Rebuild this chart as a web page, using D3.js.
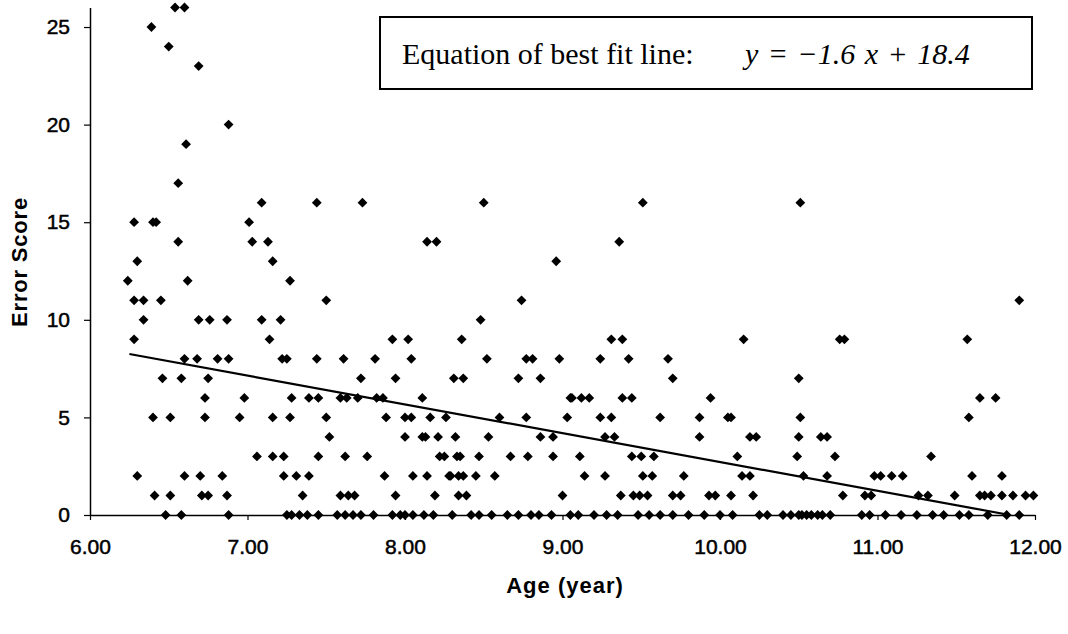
<!DOCTYPE html>
<html>
<head>
<meta charset="utf-8">
<script src="https://cdn.jsdelivr.net/npm/d3@7"></script>
<style>
  body { margin: 0; background: #fff; }
  svg { display: block; font-family: "Liberation Sans", Arial, sans-serif; }
</style>
</head>
<body>
<svg></svg>
<script>
// error score by age, one array per score level (ages in years)
var agesAt = {
  26: [6.54, 6.60],
  25: [6.39],
  24: [6.50],
  23: [6.69],
  20: [6.88],
  19: [6.61],
  17: [6.56],
  16: [7.09, 7.44, 7.73, 8.50, 9.51, 10.51],
  15: [6.28, 6.40, 6.42, 7.01],
  14: [6.56, 7.03, 7.13, 8.14, 8.20, 9.36],
  13: [6.30, 7.16, 8.96],
  12: [6.24, 6.62, 7.27],
  11: [6.28, 6.34, 6.45, 7.50, 8.74, 11.90],
  10: [6.34, 6.69, 6.76, 6.87, 7.09, 7.21, 8.48],
  9:  [6.28, 7.14, 7.92, 8.02, 8.36, 9.31, 9.38, 10.15, 10.76, 10.79, 11.57],
  8:  [6.60, 6.68, 6.81, 6.88, 7.22, 7.25, 7.44, 7.61, 7.81, 8.04, 8.52, 8.77, 8.81, 8.98, 9.24, 9.42, 9.67],
  7:  [6.46, 6.58, 6.75, 7.72, 7.94, 8.31, 8.37, 8.72, 8.86, 9.70, 10.50],
  6:  [6.73, 6.98, 7.28, 7.39, 7.45, 7.59, 7.63, 7.70, 7.82, 7.86, 8.11, 9.05, 9.06, 9.12, 9.17, 9.38, 9.44, 9.94, 11.65, 11.75],
  5:  [6.40, 6.51, 6.73, 6.95, 7.16, 7.27, 7.50, 7.88, 8.00, 8.04, 8.16, 8.26, 8.60, 8.77, 9.03, 9.24, 9.31, 9.62, 9.87, 10.05, 10.07, 10.51, 11.58],
  4:  [7.52, 8.00, 8.11, 8.13, 8.21, 8.32, 8.53, 8.86, 8.94, 9.27, 9.33, 9.87, 10.19, 10.23, 10.50, 10.64, 10.68],
  3:  [7.06, 7.16, 7.23, 7.45, 7.62, 7.76, 8.22, 8.25, 8.33, 8.35, 8.47, 8.67, 8.78, 8.94, 9.11, 9.44, 9.50, 9.58, 10.11, 10.49, 10.73, 11.34],
  2:  [6.30, 6.60, 6.70, 6.84, 7.23, 7.31, 7.39, 7.87, 8.05, 8.14, 8.28, 8.29, 8.34, 8.37, 8.45, 8.57, 9.14, 9.27, 9.51, 9.57, 9.77, 10.14, 10.19, 10.53, 10.68, 10.98, 11.02, 11.09, 11.16, 11.60, 11.79],
  1:  [6.41, 6.51, 6.71, 6.75, 6.87, 7.35, 7.59, 7.64, 7.68, 7.94, 8.19, 8.34, 8.39, 9.00, 9.37, 9.45, 9.49, 9.54, 9.70, 9.75, 9.93, 9.97, 10.07, 10.21, 10.78, 10.92, 10.96, 11.26, 11.32, 11.49, 11.65, 11.68, 11.72, 11.79, 11.86, 11.94, 11.99],
  0:  [6.48, 6.58, 6.88, 7.25, 7.28, 7.33, 7.38, 7.45, 7.57, 7.62, 7.67, 7.72, 7.80, 7.92, 7.97, 8.00, 8.05, 8.12, 8.18, 8.30, 8.42, 8.47, 8.55, 8.65, 8.72, 8.80, 8.85, 8.93, 9.05, 9.10, 9.20, 9.28, 9.35, 9.48, 9.55, 9.62, 9.70, 9.80, 9.90, 10.00, 10.08, 10.25, 10.30, 10.40, 10.45, 10.50, 10.52, 10.55, 10.58, 10.62, 10.65, 10.70, 10.90, 10.95, 11.05, 11.15, 11.25, 11.35, 11.42, 11.52, 11.58, 11.70, 11.82, 11.90]
};

var xTicks = [6, 7, 8, 9, 10, 11, 12];
var yTicks = [0, 5, 10, 15, 20, 25];

// best fit line as drawn (end points)
var fitAge = [6.25, 11.84];
var fitScore = [8.25, 0];

var points = [];
Object.keys(agesAt).forEach(function(score) {
  agesAt[score].forEach(function(age) {
    points.push({ age: age, score: +score });
  });
});

var width = 1068, height = 634;
var svg = d3.select('svg').attr('width', width).attr('height', height);

var x = d3.scaleLinear().domain([6, 12]).range([90, 1035]);
var y = d3.scaleLinear().domain([0, 26]).range([515, 7.5]);

// axes
var xAxis = svg.append('g')
    .attr('transform', 'translate(0,' + y(0) + ')')
    .call(d3.axisBottom(x).tickValues(xTicks).tickFormat(d3.format('.2f')).tickSize(5).tickSizeOuter(0));

var yAxis = svg.append('g')
    .attr('transform', 'translate(' + x(6) + ',0)')
    .call(d3.axisLeft(y).tickValues(yTicks).tickSize(6).tickSizeOuter(0));

[xAxis, yAxis].forEach(function(g) {
  g.selectAll('.domain').attr('stroke', '#000').attr('stroke-width', 1.5);
  g.selectAll('.tick line').attr('stroke', '#000').attr('stroke-width', 1.2);
  g.selectAll('.tick text')
      .attr('fill', '#000')
      .attr('stroke', '#000')
      .attr('stroke-width', 0.5)
      .style('font-size', '21px')
      .style('font-family', '"Liberation Sans", Arial, sans-serif');
});
xAxis.selectAll('.tick text').attr('y', 24).attr('dy', '0.71em');
yAxis.selectAll('.tick text').attr('x', -20);

// axis titles
svg.append('text')
    .attr('x', 565).attr('y', 593)
    .attr('text-anchor', 'middle')
    .style('font-size', '22px').style('font-weight', 'bold')
    .style('letter-spacing', '1px')
    .text('Age (year)');

svg.append('text')
    .attr('transform', 'translate(27,' + 262 + ') rotate(-90)')
    .attr('text-anchor', 'middle')
    .style('font-size', '22px').style('font-weight', 'bold')
    .style('letter-spacing', '0.8px')
    .text('Error Score');

// points
var diamond = d3.symbol().type(d3.symbolSquare).size(48);
svg.append('g').selectAll('path')
    .data(points)
    .enter()
    .append('path')
      .attr('d', diamond)
      .attr('transform', d => 'translate(' + x(d.age) + ',' + y(d.score) + ') rotate(45)')
      .attr('fill', '#000');

// best fit line
svg.append('line')
    .attr('x1', x(fitAge[0])).attr('y1', y(fitScore[0]))
    .attr('x2', x(fitAge[1])).attr('y2', y(fitScore[1]))
    .attr('stroke', '#000')
    .attr('stroke-width', 2.2);

// equation box
svg.append('rect')
    .attr('x', 380).attr('y', 17)
    .attr('width', 652).attr('height', 72)
    .attr('fill', '#fff')
    .attr('stroke', '#000')
    .attr('stroke-width', 2);

var eq = svg.append('text')
    .attr('x', 402).attr('y', 64)
    .style('font-family', '"Liberation Serif", "Times New Roman", serif')
    .style('font-size', '30px');
eq.append('tspan').text('Equation of best fit line:');
eq.append('tspan')
    .attr('x', 745)
    .style('font-style', 'italic')
    .style('word-spacing', '2px')
    .text('y = \u22121.6 x + 18.4');
</script>
</body>
</html>
